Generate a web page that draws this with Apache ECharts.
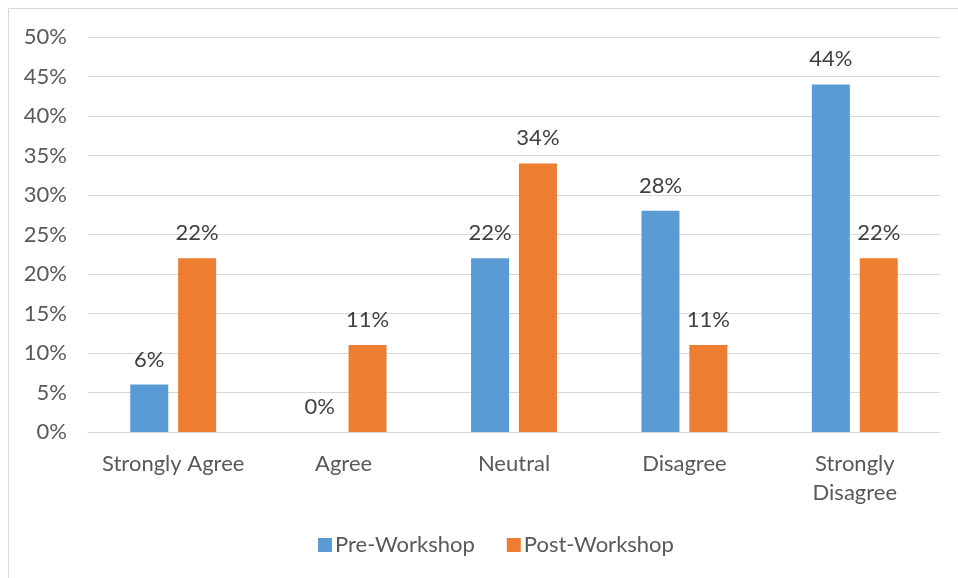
<!DOCTYPE html>
<html>
<head>
<meta charset="utf-8">
<script src="https://cdn.jsdelivr.net/npm/echarts@6/dist/echarts.min.js"></script>
<style>
  html, body { margin: 0; padding: 0; background: #fff; }
  #chart { width: 958px; height: 578px; }
</style>
</head>
<body>
<div id="chart"></div>
<script>
// Survey responses before and after the workshop (percent of respondents)
const categories = ['Strongly Agree', 'Agree', 'Neutral', 'Disagree', 'Strongly\nDisagree'];
const preWorkshop = [6, 0, 22, 28, 44];
const postWorkshop = [22, 11, 34, 11, 22];
const yTicks = [0, 5, 10, 15, 20, 25, 30, 35, 40, 45, 50];

const fontFamily = 'Lato, "Open Sans", sans-serif';
const textColor = '#595959';

const labelStyle = {
  show: true,
  position: 'top',
  distance: 14,
  color: '#404040',
  fontSize: 22,
  fontFamily: fontFamily,
  formatter: p => p.value + '%'
};

const chart = echarts.init(document.getElementById('chart'));
chart.setOption({
  animation: false,
  backgroundColor: '#fff',
  graphic: [{
    type: 'rect',
    shape: { x: 8.5, y: 8.5, width: 980, height: 600 },
    style: { fill: 'none', stroke: '#d9d9d9', lineWidth: 1 },
    z: -1
  }],
  grid: { left: 88, right: 18, top: 37, bottom: 146, containLabel: false },
  legend: {
    bottom: 17,
    left: 313,
    itemWidth: 14,
    itemHeight: 14,
    itemGap: 32,
    icon: 'rect',
    textStyle: { color: textColor, fontSize: 22, fontFamily: fontFamily, padding: [0, 0, 0, -2] },
    data: ['Pre-Workshop', 'Post-Workshop']
  },
  xAxis: {
    type: 'category',
    data: categories,
    axisLine: { lineStyle: { color: '#d9d9d9', width: 1 } },
    axisTick: { show: false },
    axisLabel: {
      color: textColor,
      fontSize: 22,
      fontFamily: fontFamily,
      margin: 17,
      lineHeight: 29,
      interval: 0
    }
  },
  yAxis: {
    type: 'value',
    min: yTicks[0],
    max: yTicks[yTicks.length - 1],
    interval: 5,
    axisLine: { show: false },
    axisTick: { show: false },
    splitLine: { lineStyle: { color: '#d9d9d9', width: 1 } },
    axisLabel: {
      color: textColor,
      fontSize: 22,
      fontFamily: fontFamily,
      margin: 21,
      formatter: v => v + '%'
    }
  },
  series: [
    {
      name: 'Pre-Workshop',
      type: 'bar',
      data: preWorkshop,
      barWidth: 38,
      barGap: '26%',
      itemStyle: { color: '#5b9bd5' },
      label: labelStyle
    },
    {
      name: 'Post-Workshop',
      type: 'bar',
      data: postWorkshop,
      barWidth: 38,
      barGap: '26%',
      itemStyle: { color: '#ed7d31' },
      label: labelStyle
    }
  ]
});
</script>
</body>
</html>
